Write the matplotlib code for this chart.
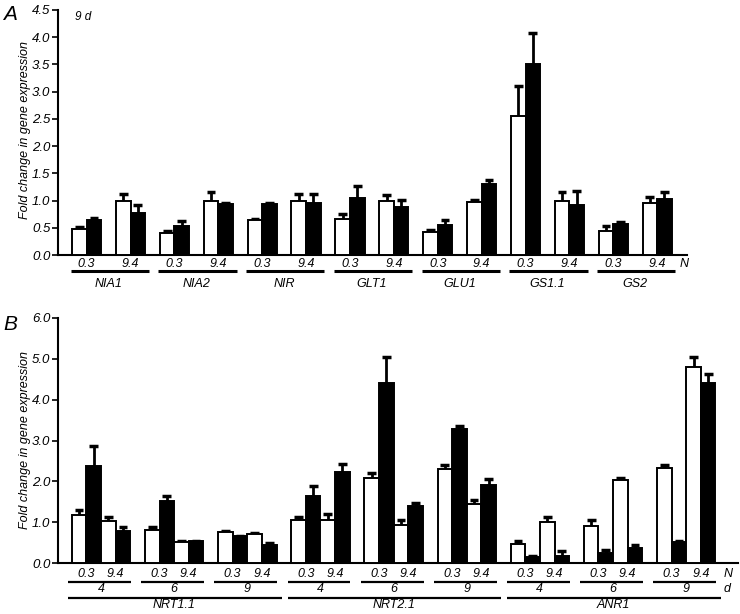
import matplotlib
matplotlib.use("Agg")
import matplotlib.pyplot as plt
import numpy as np

plt.rcParams['font.family'] = ['Liberation Sans', 'DejaVu Sans']
plt.rcParams['font.style'] = 'italic'

# panel A: 9 d, open / filled bars at 0.3 and 9.4 N
genes_a = ['NIA1', 'NIA2', 'NIR', 'GLT1', 'GLU1', 'GS1.1', 'GS2']
a_open_03 = [0.48, 0.40, 0.64, 0.67, 0.42, 2.55, 0.45]
a_open_03_err = [0.03, 0.05, 0.02, 0.09, 0.04, 0.55, 0.09]
a_fill_03 = [0.64, 0.54, 0.94, 1.04, 0.56, 3.51, 0.57]
a_fill_03_err = [0.04, 0.08, 0.01, 0.23, 0.08, 0.57, 0.03]
a_open_94 = [1.00, 1.00, 1.00, 1.00, 0.98, 1.00, 0.96]
a_open_94_err = [0.12, 0.15, 0.12, 0.11, 0.03, 0.16, 0.11]
a_fill_94 = [0.77, 0.94, 0.95, 0.89, 1.31, 0.91, 1.02]
a_fill_94_err = [0.14, 0.01, 0.17, 0.12, 0.06, 0.26, 0.13]

# panel B: three genes x days 4, 6, 9
genes_b = ['NRT1.1', 'NRT2.1', 'ANR1']
days_b = ['4', '6', '9']
b_open_03 = [1.17, 0.80, 0.77, 1.05, 2.09, 2.30, 0.47, 0.90, 2.33]
b_open_03_err = [0.14, 0.08, 0.02, 0.07, 0.12, 0.11, 0.07, 0.15, 0.07]
b_fill_03 = [2.37, 1.53, 0.65, 1.65, 4.41, 3.27, 0.15, 0.25, 0.52]
b_fill_03_err = [0.49, 0.10, 0.02, 0.24, 0.63, 0.09, 0.02, 0.07, 0.02]
b_open_94 = [1.04, 0.52, 0.71, 1.06, 0.92, 1.45, 1.00, 2.04, 4.81]
b_open_94_err = [0.08, 0.02, 0.03, 0.15, 0.14, 0.10, 0.13, 0.03, 0.24]
b_fill_94 = [0.78, 0.53, 0.45, 2.24, 1.39, 1.92, 0.17, 0.36, 4.40]
b_fill_94_err = [0.10, 0.02, 0.05, 0.18, 0.07, 0.14, 0.12, 0.07, 0.24]

n_labels = ['0.3', '9.4']
FS = 9


def draw_bars(ax, x, h, err, color):
  ax.bar(x, h, width=1.0, color=color, edgecolor='black', linewidth=1.4, zorder=3)
  h = np.array(h)
  top = h + np.array(err)
  ax.vlines(x, h, top, color='black', linewidth=2.0, zorder=2)
  ax.hlines(top, x - 0.3, x + 0.3, color='black', linewidth=2.5, zorder=2)


def style_axis(ax, ymax, step):
  ax.spines['top'].set_visible(False)
  ax.spines['right'].set_visible(False)
  ax.spines['left'].set_linewidth(1.5)
  ax.spines['bottom'].set_linewidth(1.5)
  ax.set_ylim(0, ymax)
  ticks = np.arange(0, ymax + 0.001, step)
  ax.set_yticks(ticks)
  ax.set_yticklabels(['%.1f' % t for t in ticks], fontsize=FS + 0.5)
  ax.tick_params(axis='y', direction='out', length=4, width=1.2, pad=1.5)
  ax.set_xticks([])


fig = plt.figure(figsize=(7.4, 6.14), dpi=100)

# ---- panel A
axA = fig.add_axes([58 / 740, 1 - 255 / 614, 629 / 740, 245 / 614])
g = np.arange(len(genes_a)) * 6
draw_bars(axA, g + 0.5, a_open_03, a_open_03_err, 'white')
draw_bars(axA, g + 1.5, a_fill_03, a_fill_03_err, 'black')
draw_bars(axA, g + 3.5, a_open_94, a_open_94_err, 'white')
draw_bars(axA, g + 4.5, a_fill_94, a_fill_94_err, 'black')
axA.set_xlim(-0.96, 42.04)
style_axis(axA, 4.5, 0.5)

tr = axA.get_xaxis_transform()
for i, name in enumerate(genes_a):
  x0 = g[i]
  axA.text(x0 + 1, -0.037, n_labels[0], transform=tr, ha='center', va='center', fontsize=FS)
  axA.text(x0 + 4, -0.037, n_labels[1], transform=tr, ha='center', va='center', fontsize=FS)
  axA.plot([x0 - 0.1, x0 + 5.25], [-0.064, -0.064], transform=tr, color='black',
           linewidth=2.2, clip_on=False, solid_capstyle='butt')
  axA.text(x0 + 2.5, -0.12, name, transform=tr, ha='center', va='center', fontsize=FS)
axA.text(0.989, -0.037, 'N', transform=axA.transAxes, ha='left', va='center', fontsize=FS)
axA.text(0.027, 0.971, '9 d', transform=axA.transAxes, ha='left', va='center', fontsize=FS - 0.5)

# ---- panel B
axB = fig.add_axes([58 / 740, 1 - 563 / 614, 680 / 740, 245 / 614])
k = np.arange(len(b_open_03)) * 5
draw_bars(axB, k + 0.5, b_open_03, b_open_03_err, 'white')
draw_bars(axB, k + 1.5, b_fill_03, b_fill_03_err, 'black')
draw_bars(axB, k + 2.5, b_open_94, b_open_94_err, 'white')
draw_bars(axB, k + 3.5, b_fill_94, b_fill_94_err, 'black')
axB.set_xlim(-0.94, 45.54)
style_axis(axB, 6.0, 1.0)

tr = axB.get_xaxis_transform()
for i, x0 in enumerate(k):
  axB.text(x0 + 1, -0.045, n_labels[0], transform=tr, ha='center', va='center', fontsize=FS)
  axB.text(x0 + 3, -0.045, n_labels[1], transform=tr, ha='center', va='center', fontsize=FS)
  axB.plot([x0 - 0.25, x0 + 4.05], [-0.078, -0.078], transform=tr, color='black',
           linewidth=1.6, clip_on=False, solid_capstyle='butt')
  axB.text(x0 + 2, -0.107, days_b[i % 3], transform=tr, ha='center', va='center', fontsize=FS)
for j, name in enumerate(genes_b):
  x0 = j * 15
  axB.plot([x0 - 0.25, x0 + 14.35], [-0.142, -0.142], transform=tr, color='black',
           linewidth=1.6, clip_on=False, solid_capstyle='butt')
  axB.text(x0 + 7, -0.173, name, transform=tr, ha='center', va='center', fontsize=FS)
axB.text(0.979, -0.045, 'N', transform=axB.transAxes, ha='left', va='center', fontsize=FS)
axB.text(0.979, -0.107, 'd', transform=axB.transAxes, ha='left', va='center', fontsize=FS)

# y labels and panel letters
fig.text(25 / 740, 1 - 130 / 614, 'Fold change in gene expression', rotation=90,
         ha='center', va='center', fontsize=FS)
fig.text(25 / 740, 1 - 440 / 614, 'Fold change in gene expression', rotation=90,
         ha='center', va='center', fontsize=FS)
fig.text(3 / 740, 1 - 14 / 614, 'A', ha='left', va='center', fontsize=15)
fig.text(3 / 740, 1 - 325 / 614, 'B', ha='left', va='center', fontsize=15)

fig.savefig('out.png', dpi=100)
